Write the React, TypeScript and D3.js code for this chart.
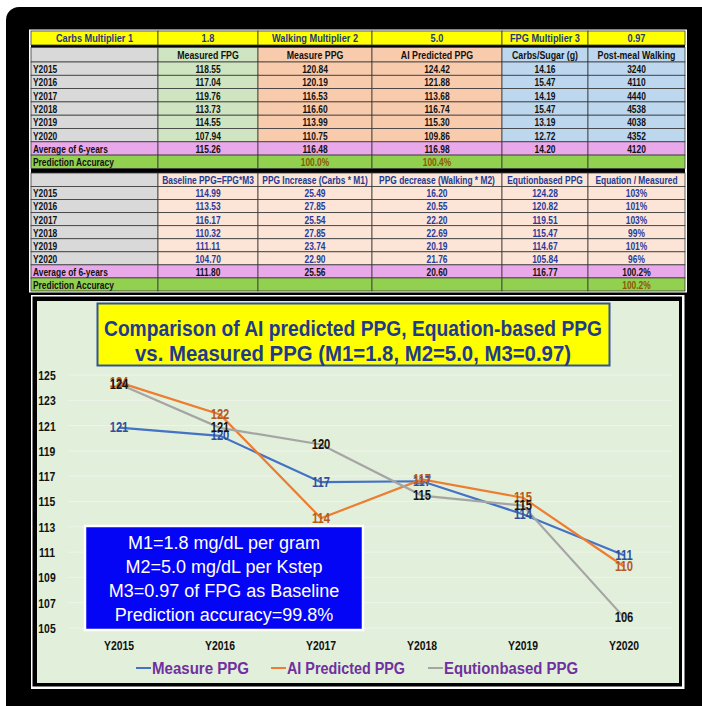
import * as d3 from "d3";

// ---- table data ----
const years = ["Y2015", "Y2016", "Y2017", "Y2018", "Y2019", "Y2020"];
const measuredFPG = [118.55, 117.04, 119.76, 113.73, 114.55, 107.94];
const measuredPPG = [120.84, 120.19, 116.53, 116.6, 113.99, 110.75];
const aiPredictedPPG = [124.42, 121.88, 113.68, 116.74, 115.3, 109.86];
const carbsSugar = [14.16, 15.47, 14.19, 15.47, 13.19, 12.72];
const postMealWalking = [3240, 4110, 4440, 4538, 4038, 4352];
const average1 = ["115.26", "116.48", "116.98", "14.20", "4120"];
const accuracy1 = ["", "100.0%", "100.4%", "", ""];

const baselinePPG = [114.99, 113.53, 116.17, 110.32, 111.11, 104.7];
const ppgIncrease = [25.49, 27.85, 25.54, 27.85, 23.74, 22.9];
const ppgDecrease = [16.2, 20.55, 22.2, 22.69, 20.19, 21.76];
const equationPPG = [124.28, 120.82, 119.51, 115.47, 114.67, 105.84];
const equationRatio = ["103%", "101%", "103%", "99%", "101%", "96%"];
const average2 = ["111.80", "25.56", "20.60", "116.77", "100.2%"];
const accuracy2 = ["", "", "", "", "100.2%"];

const multipliers = ["Carbs Multiplier 1", "1.8", "Walking Multiplier 2", "5.0", "FPG Multiplier 3", "0.97"];
const header1 = ["", "Measured FPG", "Measure PPG", "AI Predicted PPG", "Carbs/Sugar (g)", "Post-meal Walking"];
const header2 = ["", "Baseline PPG=FPG*M3", "PPG Increase (Carbs * M1)", "PPG decrease (Walking * M2)", "Equtionbased PPG", "Equation / Measured"];

// ---- chart data ----
const yTicks = [105, 107, 109, 111, 113, 115, 117, 119, 121, 123, 125];
const series = [
  { name: "Measure PPG", values: measuredPPG, color: "#4472C4", labelColor: "#2F4F9E" },
  { name: "AI Predicted PPG", values: aiPredictedPPG, color: "#ED7D31", labelColor: "#B45A1E" },
  { name: "Equtionbased PPG", values: equationPPG, color: "#A5A5A5", labelColor: "#151515" },
];
const noteLines = [
  "M1=1.8 mg/dL per gram",
  "M2=5.0 mg/dL per Kstep",
  "M3=0.97 of FPG as Baseline",
  "Prediction accuracy=99.8%",
];

const SANS = "'Liberation Sans',Arial,sans-serif";
const colEdges = [31, 158, 258, 372, 502, 588, 685];

const GRAY = "#D9D9D9";
const GREEN_L = "#CFE5C2";
const PEACH = "#F8CBAD";
const BLUE_L = "#BDD7EE";
const PEACH_L = "#FCE4D6";
const PINK = "#E9A8EA";
const GREEN = "#92D050";

// condensed bold text (Calibri-like) by squeezing a regular sans horizontally
function T({
  x,
  y,
  size,
  fill,
  anchor = "middle",
  sx = 0.8,
  children,
}: {
  x: number;
  y: number;
  size: number;
  fill: string;
  anchor?: string;
  sx?: number;
  children: any;
}) {
  return (
    <text
      transform={`translate(${x},${y}) scale(${sx},1)`}
      textAnchor={anchor}
      dominantBaseline="central"
      fontFamily={SANS}
      fontWeight="bold"
      fontSize={size}
      fill={fill}
    >
      {children}
    </text>
  );
}

type Cell = { text: string; fill: string; color?: string };

function Row({ y, h, cells, size = 10.5, leftFirst = true }: { y: number; h: number; cells: Cell[]; size?: number; leftFirst?: boolean }) {
  return (
    <g>
      {cells.map((c, i) => {
        const x0 = colEdges[i];
        const x1 = colEdges[i + 1];
        const left = i === 0 && leftFirst;
        return (
          <g key={i}>
            <rect x={x0} y={y} width={x1 - x0} height={h} fill={c.fill} stroke="#3a3a3a" strokeWidth={0.8} />
            <T
              x={left ? x0 + 2 : (x0 + x1) / 2}
              y={y + h / 2 + 0.5}
              anchor={left ? "start" : "middle"}
              size={size}
              fill={c.color || "#111"}
            >
              {c.text}
            </T>
          </g>
        );
      })}
    </g>
  );
}

export default function App() {
  const fmt2 = d3.format(".2f");
  const fmt0 = d3.format(".0f");

  const rh1 = 13.3;
  const t1 = 62;
  const rh2 = 13.06;
  const t2 = 186.5;

  const x = d3.scalePoint<string>().domain(years).range([119, 624]);
  const y = d3.scaleLinear().domain([105, 125]).range([628, 375]);
  const line = d3
    .line<number>()
    .x((_, i) => x(years[i]) as number)
    .y((v) => y(v));

  const body1Fills = [GRAY, GREEN_L, PEACH, PEACH, BLUE_L, BLUE_L];

  return (
    <svg width={702} height={706} style={{ position: "absolute", left: 0, top: 0, background: "#fff" }}>
      <rect x={6} y={7} width={720} height={720} rx={13} fill="#000" />

      {/* table frame */}
      <rect x={29} y={29.5} width={658} height={263} fill="#fff" />
      <rect x={31} y={45} width={654} height={2.5} fill="#000" />
      <rect x={31} y={168.3} width={654} height={4.7} fill="#000" />

      <Row
        y={31}
        h={14}
        size={11.5}
        leftFirst={false}
        cells={multipliers.map((t) => ({ text: t, fill: "#FFFF00", color: "#1F3A7A" }))}
      />
      <Row y={47.5} h={14.5} size={11} cells={header1.map((t, i) => ({ text: t, fill: body1Fills[i] }))} />
      {years.map((yr, r) => (
        <Row
          key={yr}
          y={t1 + r * rh1}
          h={rh1}
          cells={[
            { text: yr, fill: GRAY },
            { text: fmt2(measuredFPG[r]), fill: GREEN_L },
            { text: fmt2(measuredPPG[r]), fill: PEACH },
            { text: fmt2(aiPredictedPPG[r]), fill: PEACH },
            { text: fmt2(carbsSugar[r]), fill: BLUE_L },
            { text: String(postMealWalking[r]), fill: BLUE_L },
          ]}
        />
      ))}
      <Row
        y={t1 + 6 * rh1}
        h={rh1}
        cells={[{ text: "Average of 6-years", fill: PINK }, ...average1.map((t) => ({ text: t, fill: PINK }))]}
      />
      <Row
        y={t1 + 7 * rh1}
        h={rh1}
        cells={[
          { text: "Prediction Accuracy", fill: GREEN },
          ...accuracy1.map((t) => ({ text: t, fill: GREEN, color: "#8A5A00" })),
        ]}
      />

      <Row
        y={173}
        h={13.5}
        size={10.5}
        cells={header2.map((t, i) => ({ text: t, fill: i === 0 ? GRAY : PEACH_L, color: "#233A92" }))}
      />
      {years.map((yr, r) => (
        <Row
          key={"b" + yr}
          y={t2 + r * rh2}
          h={rh2}
          cells={[
            { text: yr, fill: GRAY },
            { text: fmt2(baselinePPG[r]), fill: PEACH_L, color: "#2B3A9A" },
            { text: fmt2(ppgIncrease[r]), fill: PEACH_L, color: "#2B3A9A" },
            { text: fmt2(ppgDecrease[r]), fill: PEACH_L, color: "#2B3A9A" },
            { text: fmt2(equationPPG[r]), fill: PEACH_L, color: "#2B3A9A" },
            { text: equationRatio[r], fill: PEACH_L, color: "#2B3A9A" },
          ]}
        />
      ))}
      <Row
        y={t2 + 6 * rh2}
        h={rh2}
        cells={[{ text: "Average of 6-years", fill: PINK }, ...average2.map((t) => ({ text: t, fill: PINK }))]}
      />
      <Row
        y={t2 + 7 * rh2}
        h={rh2}
        cells={[
          { text: "Prediction Accuracy", fill: GREEN },
          ...accuracy2.map((t) => ({ text: t, fill: GREEN, color: "#8A5A00" })),
        ]}
      />

      {/* chart panel */}
      <rect x={31} y={295} width={653.5} height={394} fill="#fff" />
      <rect x={32.5} y={296.5} width={649.5} height={390} fill="#000" />
      <rect x={37} y={301} width={642} height={382} fill="#E2EFDA" />

      {yTicks.map((t) => (
        <g key={t}>
          <line x1={68} x2={672} y1={y(t)} y2={y(t)} stroke="#EEF4EA" strokeWidth={1} />
          <T x={47} y={y(t)} size={13} fill="#111">
            {t}
          </T>
        </g>
      ))}
      {years.map((yr) => (
        <T key={yr} x={x(yr) as number} y={645} size={13} fill="#111">
          {yr}
        </T>
      ))}

      {series.map((s) => (
        <path key={s.name} d={line(s.values) || ""} fill="none" stroke={s.color} strokeWidth={2.2} />
      ))}
      {series.map((s) =>
        s.values.map((v, i) => (
          <T key={s.name + i} x={x(years[i]) as number} y={y(v)} size={14} fill={s.labelColor}>
            {fmt0(v)}
          </T>
        )),
      )}

      {/* title */}
      <rect x={97.5} y={303.5} width={512} height={62} fill="#FFFF00" stroke="#2F5597" strokeWidth={2} />
      <text
        x={353}
        y={328}
        textAnchor="middle"
        dominantBaseline="central"
        fontFamily={SANS}
        fontWeight="bold"
        fontSize={22}
        fill="#1F3A8C"
        textLength={498}
        lengthAdjust="spacingAndGlyphs"
      >
        Comparison of AI predicted PPG, Equation-based PPG
      </text>
      <text
        x={353}
        y={353}
        textAnchor="middle"
        dominantBaseline="central"
        fontFamily={SANS}
        fontWeight="bold"
        fontSize={22}
        fill="#1F3A8C"
        textLength={436}
        lengthAdjust="spacingAndGlyphs"
      >
        vs. Measured PPG (M1=1.8, M2=5.0, M3=0.97)
      </text>

      {/* note box */}
      <rect x={85} y={526} width={278} height={104} fill="#0505F5" stroke="#fff" strokeWidth={2.5} />
      {noteLines.map((t, i) => (
        <text
          key={t}
          x={224}
          y={543 + i * 24}
          textAnchor="middle"
          dominantBaseline="central"
          fontFamily={SANS}
          fontSize={18}
          fill="#fff"
        >
          {t}
        </text>
      ))}

      {/* legend */}
      {series.map((s, i) => {
        const lx = [136, 271, 428][i];
        const tw = [97, 118, 134][i];
        return (
          <g key={s.name}>
            <line x1={lx} x2={lx + 15} y1={668} y2={668} stroke={s.color} strokeWidth={2} />
            <text
              x={lx + 16}
              y={668}
              dominantBaseline="central"
              fontFamily={SANS}
              fontWeight="bold"
              fontSize={16}
              fill="#7030A0"
              textLength={tw}
              lengthAdjust="spacingAndGlyphs"
            >
              {s.name}
            </text>
          </g>
        );
      })}
    </svg>
  );
}
